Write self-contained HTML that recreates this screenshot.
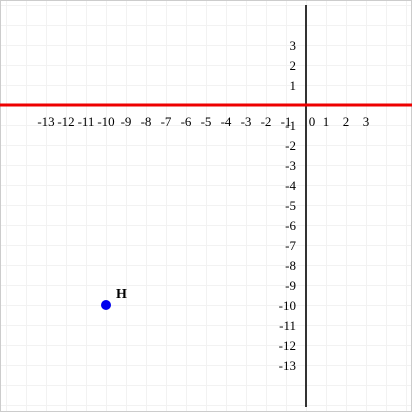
<!DOCTYPE html>
<html><head><meta charset="utf-8"><style>body{margin:0;background:#fff}svg{display:block}</style></head>
<body>
<svg id="c" width="412" height="412" font-family="Liberation Serif, serif" font-size="13"></svg>
<script>
const xTicks=[-13,-12,-11,-10,-9,-8,-7,-6,-5,-4,-3,-2,-1,0,1,2,3];
const yTicks=[3,2,1,-1,-2,-3,-4,-5,-6,-7,-8,-9,-10,-11,-12,-13];
const pointLabels=['H'];
const pointX=[-10];
const pointY=[-10];
const lineY=[0];
const NS='http://www.w3.org/2000/svg';
const svg=document.getElementById('c');
const X=v=>306+v*20, Y=v=>105-v*20;
function mk(t,a,p){const e=document.createElementNS(NS,t);for(const k in a)e.setAttribute(k,a[k]);(p||svg).appendChild(e);return e;}
const bg=mk('rect',{x:0.5,y:0.5,width:411,height:411,fill:'#fff',stroke:'#ccc'});


const grid=mk('g',{stroke:'#f2f2f2','stroke-width':1});


for(let v=-16;v<=6;v++){mk('line',{x1:X(v)+0.5,x2:X(v)+0.5,y1:1,y2:411},grid);}
for(let v=-16;v<=6;v++){mk('line',{x1:1,x2:411,y1:Y(v)+0.5,y2:Y(v)+0.5},grid);}
const ya=mk('line',{x1:X(0),x2:X(0),y1:5,y2:407,stroke:'#333','stroke-width':2});


lineY.forEach(v=>{const l=mk('line',{x1:0,x2:412,y1:Y(v),y2:Y(v),stroke:'#e00','stroke-width':3});

});
xTicks.forEach(v=>{const t=mk('text',{x:v===0?X(v)+6:X(v),y:126,'text-anchor':'middle'});t.textContent=v;

});
yTicks.forEach(v=>{const t=mk('text',{x:X(0)-10,y:Y(v)+5,'text-anchor':'end'});t.textContent=v;

});
pointX.forEach((v,i)=>{const c=mk('circle',{cx:X(v),cy:Y(pointY[i]),r:5,fill:'#00e'});


const t=mk('text',{x:X(v)+10,y:Y(pointY[i])-7,'font-weight':'bold','font-size':14});t.textContent=pointLabels[i];

});
</script>
</body></html>
